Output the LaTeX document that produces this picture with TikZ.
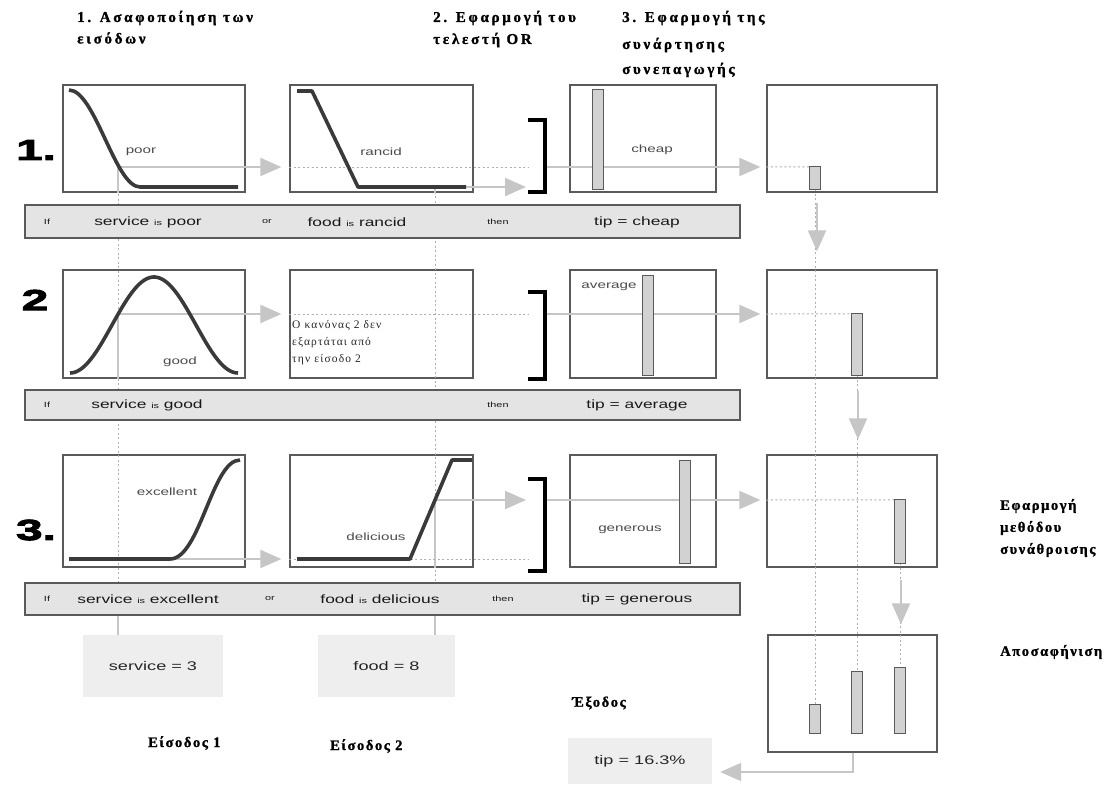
\documentclass[tikz,border=0pt]{standalone}
\usepackage{fontspec}
\setmainfont{Liberation Serif}
\setsansfont{Liberation Sans}
\newfontfamily\headfont{Liberation Serif}[LetterSpace=18,FakeBold=1.2]
\newfontfamily\labfont{Liberation Serif}[LetterSpace=11,FakeBold=1.2]
\newfontfamily\notefont{Liberation Serif}[LetterSpace=10]
\newfontfamily\wsans{Liberation Sans}[FakeStretch=1.45]
\newfontfamily\bignum{Liberation Sans}[FakeBold=3.5,FakeStretch=1.65]
\usetikzlibrary{arrows.meta}
\definecolor{boxline}{HTML}{5A5A5A}
\definecolor{curvec}{HTML}{3A3A3A}
\definecolor{arrc}{HTML}{C6C6C6}
\definecolor{rulefill}{HTML}{E4E4E4}
\definecolor{inputfill}{HTML}{EEEEEE}
\definecolor{barfill}{HTML}{D2D2D2}
\definecolor{dotc}{HTML}{B0B0B0}
\newcommand\smw[1]{{\fontsize{7.5}{8}\selectfont #1}}
\begin{document}
\begin{tikzpicture}[x=1pt,y=-1pt,
  mbox/.style={draw=boxline,line width=1.3pt,fill=white,inner sep=0pt},
  rulebar/.style={draw=boxline,line width=2pt,fill=rulefill,inner sep=0pt},
  inbox/.style={fill=inputfill,inner sep=0pt},
  mf/.style={draw=curvec,line width=3.6pt,line join=round},
  garrow/.style={draw=arrc,line width=2pt,-{Triangle[length=21pt,width=18pt]}},
  gline/.style={draw=arrc,line width=1.2pt},
  dotl/.style={draw=dotc,line width=1pt,dash pattern=on 2pt off 2.5pt},
  bar/.style={inner sep=0pt,minimum width=10pt},
  brk/.style={draw=black,line width=4.5pt},
  mlabel/.style={font=\wsans\fontsize{10.5}{12}\selectfont,text=black!70},
  rtext/.style={font=\wsans\fontsize{12}{14}\selectfont,text=black!90},
  head/.style={font=\headfont\bfseries\fontsize{15}{17}\selectfont,anchor=west,inner sep=0pt},
  lab/.style={font=\labfont\bfseries\fontsize{14.5}{16}\selectfont,anchor=west,inner sep=0pt},
  num/.style={font=\bignum\bfseries\fontsize{29}{29}\selectfont,inner sep=0pt},
  intext/.style={font=\wsans\fontsize{12.5}{14}\selectfont,text=black!85},
]
\fill[white] (0,0) rectangle (1115,784);
\useasboundingbox (0,0) rectangle (1115,784);

% ---------- boxes ----------
\node[mbox,minimum width=182pt,minimum height=107pt] (A1) at (154,138.5) {};
\node[mbox,minimum width=183pt,minimum height=107pt] (B1) at (381.5,138.5) {};
\node[mbox,minimum width=146pt,minimum height=107pt] (C1) at (643,138.5) {};
\node[mbox,minimum width=170pt,minimum height=107pt] (D1) at (852,138.5) {};
\node[mbox,minimum width=182pt,minimum height=108pt] (A2) at (154,324) {};
\node[mbox,minimum width=183pt,minimum height=108pt] (B2) at (381.5,324) {};
\node[mbox,minimum width=146pt,minimum height=108pt] (C2) at (643,324) {};
\node[mbox,minimum width=170pt,minimum height=108pt] (D2) at (852,324) {};
\node[mbox,minimum width=182pt,minimum height=112pt] (A3) at (154,511) {};
\node[mbox,minimum width=183pt,minimum height=112pt] (B3) at (381.5,511) {};
\node[mbox,minimum width=146pt,minimum height=112pt] (C3) at (643,511) {};
\node[mbox,minimum width=170pt,minimum height=112pt] (D3) at (852,511) {};
\node[mbox,minimum width=169pt,minimum height=117pt] (D4) at (852.5,693.5) {};

% ---------- named points ----------
\coordinate (s1) at (118,167);
\coordinate (s2) at (118,314);
\coordinate (s3) at (118,559);
\coordinate (f1) at (435,187);
\coordinate (f3) at (435,500);
\coordinate (k1) at (528,167);
\coordinate (k2) at (528,314);
\coordinate (k3) at (528,559);
\coordinate (b1) at (526,187);
\coordinate (b3) at (526,500);
\coordinate (o1) at (547,167);
\coordinate (o2) at (547,314);
\coordinate (o3) at (547,500);
\coordinate (v1) at (817,0);
\coordinate (v2) at (858,0);
\coordinate (v3) at (901,0);
\coordinate (ob) at (853,772);

% bar positions
\path (598,139.5) node[bar,minimum height=99pt] (c1) {};
\path (648,325.5) node[bar,minimum height=99pt] (c2) {};
\path (685,512) node[bar,minimum height=102pt] (c3) {};
\path (815,178) node[bar,minimum height=22pt] (d1) {};
\path (857,344.5) node[bar,minimum height=61pt] (d2) {};
\path (900,531.5) node[bar,minimum height=63pt] (d3) {};
\path (815,719) node[bar,minimum height=28pt] (e1) {};
\path (857,702.5) node[bar,minimum height=61pt] (e2) {};
\path (900,700.5) node[bar,minimum height=65pt] (e3) {};

% ---------- input nodes ----------
\node[inbox,minimum width=140pt,minimum height=62pt] (S) at (153,666) {};
\node[inbox,minimum width=137pt,minimum height=62pt] (F) at (386.5,666) {};
\node[inbox,minimum width=144pt,minimum height=46pt] (T) at (640,761) {};

% ---------- vertical input lines ----------
\draw[dotl] (s1) -- (S.north -| s1);
\draw[dotl] (f1) -- (F.north -| f1);
\draw[gline] (s1) -- (A1.south -| s1);
\draw[gline] (s2) -- (A2.south -| s2);
\draw[gline] (f1) -- (B1.south -| f1);
\draw[gline] (f3) -- (B3.south -| f3);

% ---------- aggregation dotted lines ----------
\draw[dotl] (d1.south) -- (e1.north);
\draw[dotl] (d2.south) -- (e2.north);
\draw[dotl] (d3.south) -- (e3.north);

% ---------- horizontal flows ----------
\draw[garrow,shorten >=8pt] (s1) -- (B1.west |- s1);
\draw[dotl] (B1.west |- s1) -- (k1);
\draw[garrow] (f1) -- (b1);
\draw[garrow,shorten >=6pt] (o1) -- (D1.west |- o1);
\draw[dotl] (D1.west |- o1) -- (d1.north west);

\draw[garrow,shorten >=8pt] (s2) -- (B2.west |- s2);
\draw[dotl] (B2.west |- s2) -- (k2);
\draw[garrow,shorten >=6pt] (o2) -- (D2.west |- o2);
\draw[dotl] (D2.west |- o2) -- (d2.north west);

\draw[garrow,shorten >=8pt] (s3) -- (B3.west |- s3);
\draw[dotl] (B3.west |- s3) -- (k3);
\draw[garrow] (f3) -- (b3);
\draw[garrow,shorten >=6pt] (o3) -- (D3.west |- o3);
\draw[dotl] (D3.west |- o3) -- (d3.north west);

% vertical aggregation arrows
\draw[garrow,shorten <=10pt,shorten >=18pt] (D1.south -| v1) -- (D2.north -| v1);
\draw[garrow,shorten <=12pt,shorten >=15pt] (D2.south -| v2) -- (D3.north -| v2);
\draw[garrow,shorten <=12pt,shorten >=10pt] (D3.south -| v3) -- (D4.north -| v3);
% output arrow
\draw[garrow,shorten >=8pt] (D4.south -| ob) -- (ob) -- (T.east |- ob);

% ---------- membership curves ----------
\draw[mf] (69,90) .. controls (95,90) and (115,187) .. (140,187) -- (238,187);
\draw[mf] (297,91) -- (312,91) -- (358,187) -- (466,187);
\draw[mf] plot[domain=70:238,samples=80] (\x,{373-96*(1+cos(180*(\x-154)/84))/2});
\draw[mf] (69,559) -- (170,559) .. controls (200,559) and (212,460) .. (240,460);
\draw[mf] (297,559) -- (410,559) -- (452,460) -- (472,460);

% ---------- bars ----------
\foreach \b in {c1,c2,c3,d1,d2,d3,e1,e2,e3}
  \draw[draw=boxline,fill=barfill,line width=1pt] (\b.north west) rectangle (\b.south east);

% ---------- brackets ----------
\draw[brk] (528,120) -- (545,120) -- (545,192) -- (528,192);
\draw[brk] (528,292) -- (545,292) -- (545,379) -- (528,379);
\draw[brk] (528,479) -- (545,479) -- (545,571) -- (528,571);

% ---------- rule bars ----------
\node[rulebar,minimum width=715pt,minimum height=33pt] (R1) at (382.5,221.5) {};
\node[rulebar,minimum width=715pt,minimum height=30pt] (R2) at (382.5,405) {};
\node[rulebar,minimum width=715pt,minimum height=32pt] (R3) at (382.5,599) {};
\draw[gline] (R3.south -| s1) -- (S.north -| s1);
\draw[gline] (R3.south -| f1) -- (F.north -| f1);

\node[rtext] (r1if) at (47,222) {\smw{If}};
\node[rtext] (r1a) at (148,222) {service \smw{is} poor};
\node[rtext] (r1or) at (267,222) {\smw{or}};
\node[rtext] (r1b) at (357,222) {food \smw{is} rancid};
\node[rtext] (r1then) at (498,222) {\smw{then}};
\node[rtext] (r1c) at (637,222) {tip = cheap};

\node[rtext] (r2if) at (47,405) {\smw{If}};
\node[rtext] (r2a) at (147,405) {service \smw{is} good};
\node[rtext] (r2then) at (498,405) {\smw{then}};
\node[rtext] (r2c) at (637,405) {tip = average};

\node[rtext] (r3if) at (47,599) {\smw{If}};
\node[rtext] (r3a) at (148,599) {service \smw{is} excellent};
\node[rtext] (r3or) at (270,599) {\smw{or}};
\node[rtext] (r3b) at (380,599) {food \smw{is} delicious};
\node[rtext] (r3then) at (503,599) {\smw{then}};
\node[rtext] (r3c) at (637,599) {tip = generous};

% ---------- labels in boxes ----------
\node[mlabel] (lpoor) at (141,152) {poor};
\node[mlabel] (lrancid) at (381,152) {rancid};
\node[mlabel] (lcheap) at (652,150) {cheap};
\node[mlabel] (lgood) at (180,362) {good};
\node[mlabel] (laverage) at (609,287) {average};
\node[mlabel] (lexc) at (167,492) {excellent};
\node[mlabel] (ldel) at (376,537) {delicious};
\node[mlabel] (lgen) at (630,530) {generous};
\node[font=\notefont\fontsize{11.5}{17}\selectfont,text=black!85,align=left,anchor=north west,inner sep=0pt] (note) at (292,320) {Ο κανόνας 2 δεν\\εξαρτάται από\\την είσοδο 2};

% ---------- big rule numbers ----------
\node[num] (n1) at (36,150) {1.};
\node[num] (n2) at (35,300) {2};
\node[num] (n3) at (36,530) {3.};

% ---------- headings ----------
\node[head] (h1a) at (77,18) {1. Ασαφοποίηση των};
\node[head] (h1b) at (77,38) {εισόδων};
\node[head] (h2a) at (433,18) {2. Εφαρμογή του};
\node[head] (h2b) at (433,40) {τελεστή OR};
\node[head] (h3a) at (622,18) {3. Εφαρμογή της};
\node[head] (h3b) at (622,45) {συνάρτησης};
\node[head] (h3c) at (622,70) {συνεπαγωγής};

\node[lab] (ag1) at (1000,506) {Εφαρμογή};
\node[lab] (ag2) at (1000,528) {μεθόδου};
\node[lab] (ag3) at (1000,550) {συνάθροισης};
\node[lab] (def) at (1000,652) {Αποσαφήνιση};
\node[lab] (out) at (572,703) {Έξοδος};
\node[lab] (in1) at (148,743) {Είσοδος 1};
\node[lab] (in2) at (330,746) {Είσοδος 2};

% ---------- input texts ----------
\node[intext] (st) at (S) {service = 3};
\node[intext] (ft) at (F) {food = 8};
\node[intext] (tt) at (T) {tip = 16.3\%};
\end{tikzpicture}
\end{document}
